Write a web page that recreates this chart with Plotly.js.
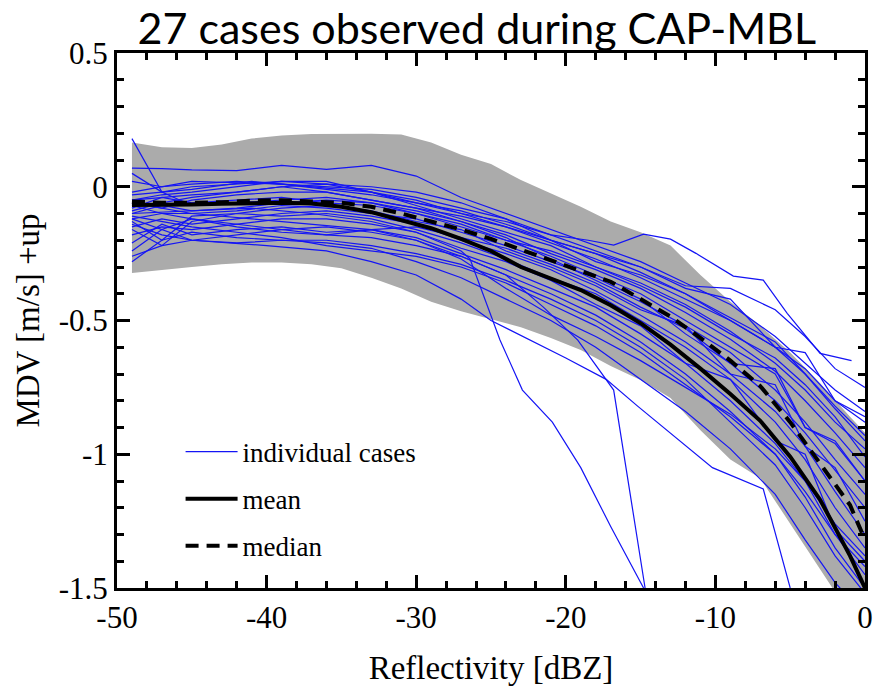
<!DOCTYPE html>
<html><head><meta charset="utf-8">
<script src="https://cdn.plot.ly/plotly-3.0.1.min.js"></script>
<style>html,body{margin:0;padding:0;background:#fff;}#chart{width:873px;height:691px;}</style>
</head><body><div id="chart"></div>
<script>
// Envelope, mean and median (x in dBZ, y in m/s)
const envX   = [-49,-47,-45,-43,-41,-39,-37,-35,-33,-31,-29,-27,-25,-23,-21,-19,-17,-15,-13,-11,-9,-7,-5,-3,-1,0];
const envUp  = [0.165,0.148,0.145,0.158,0.18,0.192,0.197,0.198,0.198,0.195,0.165,0.12,0.085,0.025,-0.025,-0.075,-0.13,-0.17,-0.22,-0.33,-0.43,-0.52,-0.62,-0.735,-0.86,-0.92];
const envLow = [-0.322,-0.31,-0.3,-0.29,-0.283,-0.283,-0.29,-0.305,-0.34,-0.38,-0.43,-0.465,-0.495,-0.525,-0.565,-0.61,-0.67,-0.722,-0.79,-0.91,-1.02,-1.09,-1.26,-1.43,-1.6,-1.6];
const meanY  = [-0.068,-0.068,-0.066,-0.064,-0.061,-0.06,-0.063,-0.075,-0.095,-0.125,-0.155,-0.195,-0.24,-0.3,-0.343,-0.386,-0.443,-0.51,-0.59,-0.68,-0.775,-0.875,-1.009,-1.17,-1.38,-1.5];
const medianY= [-0.055,-0.06,-0.06,-0.058,-0.052,-0.05,-0.055,-0.06,-0.075,-0.1,-0.13,-0.16,-0.195,-0.235,-0.275,-0.315,-0.355,-0.42,-0.485,-0.565,-0.65,-0.745,-0.88,-1.035,-1.19,-1.32];

// Individual cases on a shared dBZ grid
const dbz = [-49,-47,-45,-42,-39,-36,-33,-30,-27,-24,-21,-18,-15,-12,-9,-6,-4,-2,0];
const case01 = [0.07,0.068,0.063,0.06,0.08,0.065,0.08,0.04,-0.04,-0.1,-0.16,-0.22,-0.28,-0.36,-0.44,-0.56,-0.66,-0.76,-0.84];
const case02 = [0.02,0.0,0.01,0.02,0.01,0.0,-0.01,-0.04,-0.08,-0.12,-0.2,-0.25,-0.3,-0.37,-0.38,-0.46,-0.56,-0.68,-0.75];
const case03 = [0.05,-0.02,0.0,0.01,0.02,0.01,0.0,-0.02,-0.06,-0.12,-0.18,-0.24,-0.3,-0.38,-0.42,-0.6,-0.62,-0.8,-0.86];
const case04 = [-0.02,0.0,0.02,0.015,0.01,-0.01,-0.03,-0.06,-0.1,-0.15,-0.21,-0.27,-0.34,-0.42,-0.5,-0.6,-0.7,-0.82,-0.93];
const case05 = [-0.05,-0.03,-0.02,0.0,0.02,0.02,-0.02,-0.07,-0.12,-0.17,-0.22,-0.3,-0.36,-0.44,-0.54,-0.66,-0.76,-0.88,-0.98];
const case06 = [-0.06,-0.08,-0.05,-0.03,-0.02,-0.02,-0.05,-0.08,-0.13,-0.18,-0.25,-0.31,-0.38,-0.47,-0.57,-0.69,-0.8,-0.92,-1.05];
const case07 = [-0.08,-0.04,-0.06,-0.05,-0.04,-0.06,-0.07,-0.1,-0.15,-0.2,-0.26,-0.33,-0.4,-0.5,-0.6,-0.7,-0.9,-0.95,-1.1];
const case08 = [-0.1,-0.07,-0.09,-0.08,-0.06,-0.05,-0.06,-0.09,-0.13,-0.19,-0.27,-0.35,-0.43,-0.52,-0.62,-0.76,-0.88,-1.02,-1.15];
const case09 = [-0.12,-0.1,-0.1,-0.09,-0.07,-0.08,-0.1,-0.12,-0.17,-0.22,-0.28,-0.34,-0.42,-0.55,-0.66,-0.8,-0.92,-1.06,-1.2];
const case10 = [-0.13,-0.2,-0.11,-0.1,-0.08,-0.07,-0.09,-0.13,-0.16,-0.24,-0.3,-0.37,-0.46,-0.52,-0.7,-0.74,-0.97,-1.05,-1.25];
const case11 = [-0.15,-0.12,-0.14,-0.12,-0.1,-0.09,-0.11,-0.14,-0.2,-0.25,-0.31,-0.39,-0.48,-0.58,-0.7,-0.84,-0.97,-1.14,-1.3];
const case12 = [-0.16,-0.22,-0.13,-0.1,-0.11,-0.1,-0.12,-0.16,-0.21,-0.27,-0.34,-0.4,-0.5,-0.6,-0.72,-0.88,-1.02,-1.2,-1.35];
const case13 = [-0.18,-0.15,-0.16,-0.14,-0.12,-0.12,-0.14,-0.17,-0.23,-0.28,-0.35,-0.44,-0.52,-0.66,-0.72,-0.95,-1.0,-1.28,-1.4];
const case14 = [-0.21,-0.14,-0.18,-0.16,-0.15,-0.17,-0.16,-0.19,-0.25,-0.31,-0.38,-0.45,-0.55,-0.66,-0.8,-0.96,-1.1,-1.3,-1.45];
const case15 = [-0.24,-0.16,-0.12,-0.15,-0.17,-0.18,-0.19,-0.22,-0.26,-0.33,-0.4,-0.48,-0.58,-0.7,-0.84,-1.0,-1.16,-1.35,-1.5];
const case16 = [-0.28,-0.2,-0.17,-0.19,-0.2,-0.2,-0.22,-0.25,-0.29,-0.35,-0.42,-0.5,-0.6,-0.72,-0.88,-1.04,-1.2,-1.38,-1.52];
const case17 = [-0.09,-0.06,-0.04,-0.02,0.0,0.01,-0.02,-0.06,-0.09,-0.14,-0.2,-0.28,-0.33,-0.4,-0.5,-0.6,-0.68,-0.8,-0.88];
const case18 = [0.18,-0.02,-0.07,-0.06,-0.05,-0.04,-0.06,-0.1,-0.14,-0.2,-0.24,-0.3,-0.37,-0.45,-0.55,-0.64,-0.74,-0.86,-1.01];
const case19 = [-0.07,-0.1,-0.12,-0.14,-0.16,-0.18,-0.16,-0.15,-0.19,-0.23,-0.29,-0.36,-0.45,-0.53,-0.66,-0.68,-0.9,-0.96,-1.1];
const case20 = [-0.11,-0.13,-0.15,-0.17,-0.19,-0.22,-0.24,-0.26,-0.3,-0.36,-0.44,-0.52,-0.62,-0.74,-0.86,-1.0,-1.14,-1.3,-1.42];
const case21 = [-0.14,-0.18,-0.2,-0.21,-0.2,-0.21,-0.23,-0.28,-0.34,-0.42,-0.5,-0.6,-0.72,-0.84,-0.98,-1.15,-1.32,-1.48,-1.6];
const case22 = [-0.26,-0.22,-0.2,-0.18,-0.16,-0.15,-0.17,-0.2,-0.27,-0.38,-0.48,-0.56,-0.65,-0.75,-0.85,-0.98,-1.1,-1.26,-1.38];
const case23 = [-0.05,-0.04,-0.03,-0.02,0.0,-0.02,-0.05,-0.08,-0.11,-0.15,-0.2,-0.25,-0.32,-0.4,-0.49,-0.58,-0.7,-0.83,-0.95];

// Cases with their own dBZ sampling
const case24x = [-49,-45,-41,-37,-33,-30,-27,-24,-21,-18.5,-16.8,-14.8,-13,-11.3,-8.8,-6.8,-5.2,-3,-0.9];
const case24y = [-0.03,-0.01,0.02,0.0,-0.02,-0.05,-0.1,-0.13,-0.18,-0.2,-0.218,-0.177,-0.196,-0.249,-0.334,-0.349,-0.473,-0.623,-0.65];
const case25x = [-49,-45,-41,-37,-33,-30,-27,-26.4,-24.4,-22.9,-20.9,-19,-17,-14.8];
const case25y = [-0.1,-0.09,-0.08,-0.1,-0.13,-0.17,-0.24,-0.27,-0.573,-0.76,-0.88,-1.05,-1.27,-1.5];
const case26x = [-49,-45,-41,-37,-33,-30,-27,-24,-21.5,-19.2,-16.8,-14.7];
const case26y = [-0.06,-0.1,-0.12,-0.14,-0.16,-0.2,-0.26,-0.33,-0.45,-0.573,-0.76,-1.5];
const case27x = [-49,-45,-40,-36,-33,-30,-27,-25,-20,-17.3,-15.2,-12.8,-10.2,-6.8,-5.0];
const case27y = [-0.12,-0.2,-0.22,-0.24,-0.28,-0.33,-0.42,-0.5,-0.64,-0.72,-0.82,-0.93,-1.05,-1.13,-1.5];

const xTickVals = [-50,-40,-30,-20,-10,0];
const xTickText = ['-50','-40','-30','-20','-10','0'];
const yTickVals = [-1.5,-1,-0.5,0,0.5];
const yTickText = ['-1.5','-1','-0.5','0','0.5'];

const gridCases = [case01,case02,case03,case04,case05,case06,case07,case08,case09,case10,case11,case12,case13,case14,case15,case16,case17,case18,case19,case20,case21,case22,case23];
const ownCases = [[case24x,case24y],[case25x,case25y],[case26x,case26y],[case27x,case27y]];

const blue = 'rgb(20,20,245)';
const traces = [];
traces.push({
  x: envX.concat(envX.slice().reverse()),
  y: envUp.concat(envLow.slice().reverse()),
  type:'scatter', mode:'lines', fill:'toself', fillcolor:'#ababab',
  line:{width:0,color:'#ababab'}, hoverinfo:'skip', showlegend:false
});
let first = true;
gridCases.forEach(c => {
  traces.push({x:dbz, y:c, type:'scatter', mode:'lines', line:{color:blue,width:1.2},
    name:'individual cases', legendgroup:'a', showlegend:first});
  first = false;
});
ownCases.forEach(c => {
  traces.push({x:c[0], y:c[1], type:'scatter', mode:'lines', line:{color:blue,width:1.2},
    legendgroup:'a', showlegend:false});
});
traces.push({x:envX, y:meanY, type:'scatter', mode:'lines', name:'mean', legendgroup:'b',
  line:{color:'#000',width:4}});
traces.push({x:envX, y:medianY, type:'scatter', mode:'lines', name:'median', legendgroup:'c',
  line:{color:'#000',width:4,dash:'13px,8px'}});

const serif = 'Liberation Serif';
const layout = {
  width:873, height:691,
  margin:{l:117, r:8, t:53, b:103},
  paper_bgcolor:'#fff', plot_bgcolor:'#fff',
  font:{family:serif, size:31, color:'#000'},
  title:{text:'27 cases observed during CAP-MBL', font:{family:'Lato', size:43, color:'#000'},
    xref:'paper', x:0.481, xanchor:'center', yref:'container', y:0.958, yanchor:'middle'},
  xaxis:{range:[-50,0], tickmode:'array', tickvals:xTickVals, ticktext:xTickText,
    showline:true, linewidth:3, linecolor:'#000', mirror:'ticks',
    ticks:'inside', ticklen:13, tickwidth:3, tickcolor:'#000', showgrid:false, zeroline:false,
    tickfont:{family:serif, size:31, color:'#000'},
    minor:{dtick:2, ticks:'inside', ticklen:7, tickwidth:3, tickcolor:'#000', showgrid:false},
    title:{text:'Reflectivity [dBZ]', font:{family:serif,size:33,color:'#000'}, standoff:22}},
  yaxis:{range:[-1.5,0.5], tickmode:'array', tickvals:yTickVals, ticktext:yTickText,
    showline:true, linewidth:3, linecolor:'#000', mirror:'ticks',
    ticks:'inside', ticklen:13, tickwidth:3, tickcolor:'#000', showgrid:false, zeroline:false,
    tickfont:{family:serif, size:31, color:'#000'},
    minor:{dtick:0.1, ticks:'inside', ticklen:7, tickwidth:3, tickcolor:'#000', showgrid:false},
    title:{text:'MDV [m/s] +up', font:{family:serif,size:33,color:'#000'}, standoff:10}},
  showlegend:true,
  legend:{x:0.085, y:0.30, xanchor:'left', yanchor:'top', bgcolor:'rgba(0,0,0,0)',
    font:{family:serif,size:27,color:'#000'}, traceorder:'grouped', tracegroupgap:9, itemwidth:52}
};
Plotly.newPlot('chart', traces, layout, {staticPlot:true, displayModeBar:false});
</script></body></html>
